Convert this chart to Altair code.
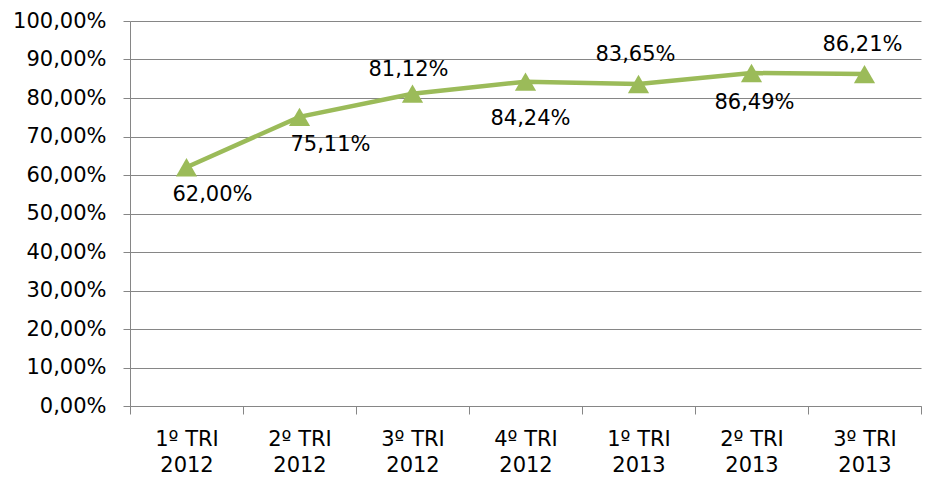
import altair as alt
import pandas as pd

quarters = ["1º TRI", "2º TRI", "3º TRI", "4º TRI", "1º TRI", "2º TRI", "3º TRI"]
years = ["2012", "2012", "2012", "2012", "2013", "2013", "2013"]
values = [0.62, 0.7511, 0.8112, 0.8424, 0.8365, 0.8649, 0.8621]
y_ticks = [0.0, 0.1, 0.2, 0.3, 0.4, 0.5, 0.6, 0.7, 0.8, 0.9, 1.0]

cats = [f"{q}|{y}" for q, y in zip(quarters, years)]
df = pd.DataFrame({"cat": cats, "value": values})

FONT = "DejaVu Sans"
GRAY = "#868686"
GREEN = "#9BBB59"

x_enc = alt.X(
    "cat:N",
    sort=cats,
    scale=alt.Scale(type="band", paddingInner=0, paddingOuter=0),
    axis=alt.Axis(
        title=None,
        labelAngle=0,
        labelExpr="split(datum.label, '|')",
        tickBand="extent",
        tickSize=8,
        labelPadding=14.5,
        labelLineHeight=26,
        labelFont=FONT,
        labelFontSize=21,
        labelColor="#000000",
        domainColor=GRAY,
        tickColor=GRAY,
        grid=False,
    ),
)
y_enc = alt.Y(
    "value:Q",
    scale=alt.Scale(domain=[0, 1], nice=False),
    axis=alt.Axis(
        title=None,
        values=y_ticks,
        labelExpr="replace(format(datum.value, '.2%'), '.', ',')",
        tickSize=7,
        labelPadding=17,
        labelFont=FONT,
        labelFontSize=21,
        labelColor="#000000",
        domainColor=GRAY,
        tickColor=GRAY,
        gridColor=GRAY,
        gridWidth=1,
    ),
)

base = alt.Chart(df).encode(x=x_enc, y=y_enc)

line = base.mark_line(color=GREEN, strokeWidth=4.5)
pts = base.mark_point(shape="triangle-up", filled=True, color=GREEN, size=450, opacity=1)

# per-label placement (offsets from the marker, in pixels)
label_offsets = [(26, 28), (31, 28), (-4, -24), (5, 37), (-3, -29), (3, 30), (-2, -29)]
label_layers = []
for c, (dx, dy) in zip(cats, label_offsets):
    label_layers.append(
        base.transform_filter(alt.datum.cat == c)
        .transform_calculate(lab="replace(format(datum.value, '.2%'), '.', ',')")
        .mark_text(font=FONT, fontSize=21, color="#000000", dx=dx, dy=dy, baseline="middle", align="center")
        .encode(text="lab:N")
    )

chart = (
    alt.layer(line, pts, *label_layers)
    .properties(
        width=791,
        height=385,
        autosize=alt.AutoSizeParams(type="none"),
        padding={"left": 122, "top": 13, "right": 1, "bottom": 72},
    )
    .configure_view(stroke=None)
)

chart.save("out.html", embed_options={"renderer": "svg", "actions": False})
